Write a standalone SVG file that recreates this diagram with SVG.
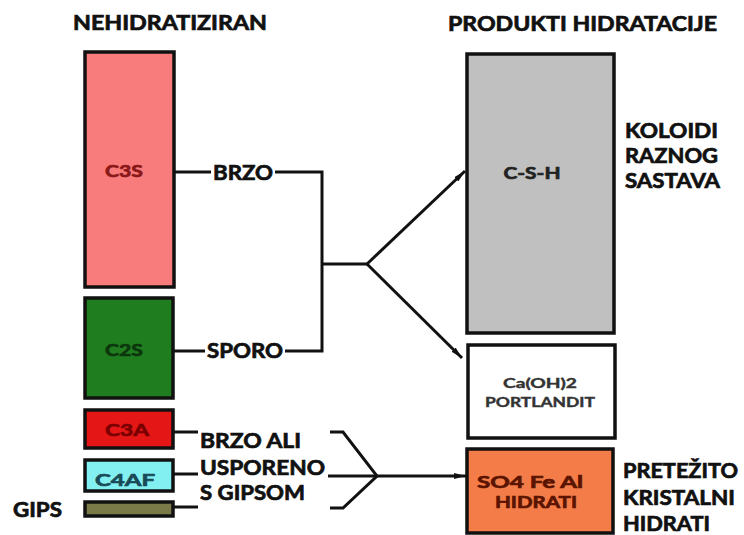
<svg xmlns="http://www.w3.org/2000/svg" width="744" height="535" viewBox="0 0 744 535">
<style>
.box{stroke:#111;stroke-width:3.5}
.t{font-family:Lato,"Open Sans","Liberation Sans",sans-serif;font-weight:bold;fill:#111;stroke:#111;stroke-width:0.7}
.h{font-size:20px}
.n{font-size:17px}
.s{font-size:13px;stroke-width:0.4}
.c{text-anchor:middle}
.ln{fill:none;stroke:#111;stroke-width:3;stroke-linejoin:miter}
</style>
<defs>
<marker id="ar" viewBox="0 0 12 6" refX="12" refY="3" markerWidth="12" markerHeight="6" markerUnits="userSpaceOnUse" orient="auto">
<path d="M0,0 L12,3 L0,6 Z" fill="#111"/>
</marker>
</defs>
<rect width="744" height="535" fill="#fff"/>
<text class="t h" x="73" y="30" textLength="194" lengthAdjust="spacingAndGlyphs">NEHIDRATIZIRAN</text>
<text class="t h" x="448" y="31" textLength="269" lengthAdjust="spacingAndGlyphs">PRODUKTI HIDRATACIJE</text>

<g id="c3s"><rect class="box" x="85" y="52" width="89" height="235" fill="#f87c7c"/><text class="t n c" x="124" y="177" style="fill:#8a1818;stroke:#8a1818" textLength="38" lengthAdjust="spacingAndGlyphs">C3S</text></g>
<g id="c2s"><rect class="box" x="85" y="298" width="88" height="100" fill="#1f7d1f"/><text class="t n c" x="124" y="356" style="fill:#0c360c;stroke:#0c360c" textLength="38" lengthAdjust="spacingAndGlyphs">C2S</text></g>
<g id="c3a"><rect class="box" x="85" y="410" width="88" height="38" fill="#e41616"/><text class="t n c" x="127" y="436" style="fill:#7a0000;stroke:#7a0000" textLength="44" lengthAdjust="spacingAndGlyphs">C3A</text></g>
<g id="c4af"><rect class="box" x="85" y="460" width="88" height="31" fill="#82f0f0"/><text class="t n c" x="125" y="486" style="fill:#1a4a58;stroke:#1a4a58" textLength="60" lengthAdjust="spacingAndGlyphs">C4AF</text></g>
<g id="gips"><rect class="box" x="85" y="502" width="88" height="14" fill="#7a7a48"/><text class="t h" x="13" y="517" textLength="49" lengthAdjust="spacingAndGlyphs">GIPS</text></g>

<g id="csh"><rect class="box" x="467" y="54" width="147" height="279" fill="#c0c0c0"/><text class="t n c" x="532" y="179" style="fill:#222;stroke:#222" textLength="57" lengthAdjust="spacingAndGlyphs">C-S-H</text></g>
<g id="caoh"><rect class="box" x="468" y="345" width="147" height="93" fill="#fff"/><text class="t s c" x="540" y="388" style="fill:#333;stroke:#333" textLength="74" lengthAdjust="spacingAndGlyphs">Ca(OH)2</text><text class="t s c" x="540" y="407" style="fill:#333;stroke:#333" textLength="110" lengthAdjust="spacingAndGlyphs">PORTLANDIT</text></g>
<g id="so4"><rect class="box" x="467" y="449" width="146" height="84" fill="#f47c48"/><text class="t n c" x="530" y="488" style="fill:#5a1400;stroke:#5a1400" textLength="106" lengthAdjust="spacingAndGlyphs">SO4 Fe Al</text><text class="t n c" x="536" y="508" style="fill:#5a1400;stroke:#5a1400" textLength="82" lengthAdjust="spacingAndGlyphs">HIDRATI</text></g>

<g id="labels">
<text class="t h" x="213" y="180" textLength="60" lengthAdjust="spacingAndGlyphs">BRZO</text>
<text class="t h" x="207" y="358" textLength="76" lengthAdjust="spacingAndGlyphs">SPORO</text>
<text class="t h" x="200" y="448" textLength="101" lengthAdjust="spacingAndGlyphs">BRZO ALI</text>
<text class="t h" x="200" y="475" textLength="125" lengthAdjust="spacingAndGlyphs">USPORENO</text>
<text class="t h" x="200" y="500" textLength="105" lengthAdjust="spacingAndGlyphs">S GIPSOM</text>
<text class="t h" x="625" y="138" textLength="93" lengthAdjust="spacingAndGlyphs">KOLOIDI</text>
<text class="t h" x="625" y="163" textLength="93" lengthAdjust="spacingAndGlyphs">RAZNOG</text>
<text class="t h" x="625" y="188" textLength="95" lengthAdjust="spacingAndGlyphs">SASTAVA</text>
<text class="t h" x="623" y="478" textLength="115" lengthAdjust="spacingAndGlyphs">PRETEŽITO</text>
<text class="t h" x="623" y="505" textLength="112" lengthAdjust="spacingAndGlyphs">KRISTALNI</text>
<text class="t h" x="623" y="531" textLength="87" lengthAdjust="spacingAndGlyphs">HIDRATI</text>
</g>

<g id="connectors">
<path class="ln" d="M174,172 H211"/>
<path class="ln" d="M275,172 H322 V351 H285"/>
<path class="ln" d="M173,351 H205"/>
<path class="ln" d="M322,264 H367"/>
<path class="ln" d="M367,264 L465,171" marker-end="url(#ar)"/>
<path class="ln" d="M367,264 L462,358" marker-end="url(#ar)"/>
<path class="ln" d="M173,432 H198"/>
<path class="ln" d="M173,474 H198"/>
<path class="ln" d="M173,507 H198"/>
<path class="ln" d="M330,432 H343 L377,476 L343,508 H330"/>
<path class="ln" d="M328,476 H466" marker-end="url(#ar)"/>
</g>
</svg>
